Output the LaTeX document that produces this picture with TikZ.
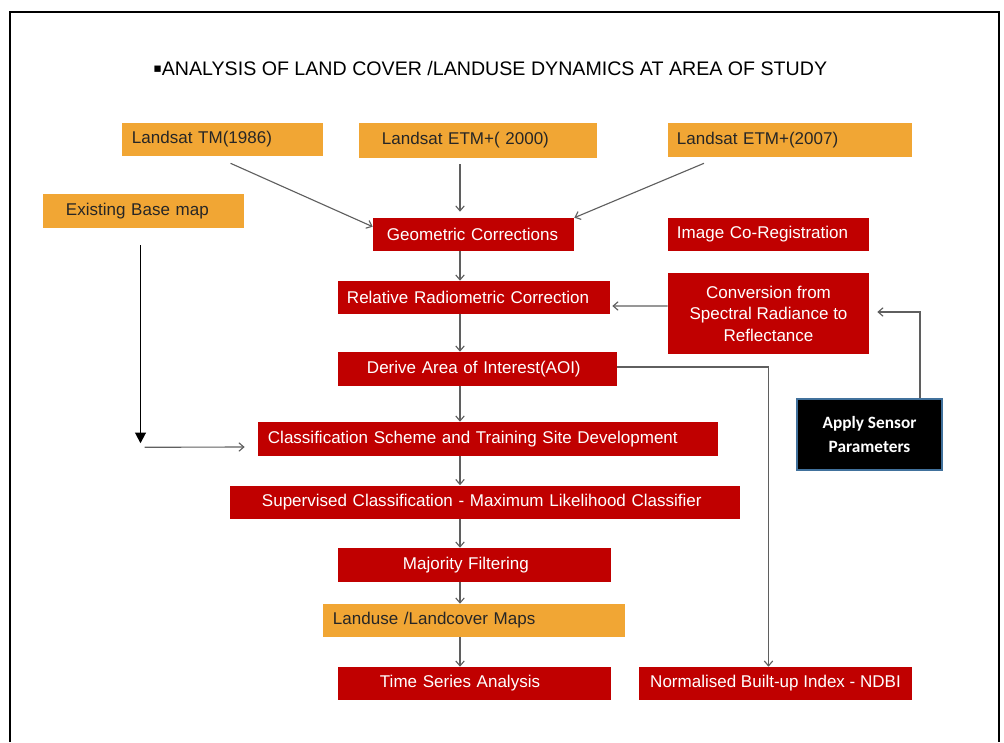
\documentclass[tikz,border=0pt]{standalone}
\usepackage{fontspec}
\setmainfont{Liberation Sans}
\newfontfamily\symbfont{DejaVu Sans}
\newfontfamily\applyfont{Carlito}
\usetikzlibrary{calc}
\usetikzlibrary{arrows.meta}

\definecolor{boxred}{RGB}{192,0,0}
\definecolor{boxorange}{RGB}{241,166,52}
\definecolor{linegray}{RGB}{95,95,95}
\definecolor{edgeblue}{RGB}{65,113,156}

\tikzset{
	redbox/.style={fill=boxred, text=white, minimum height=0.825cm, inner ysep=0pt},
	orangebox/.style={fill=boxorange, text=black!85, minimum height=0.825cm, inner ysep=0pt},
	pad/.style 2 args={text width=#1, inner xsep=#2, align=left},
	arr/.style={draw=linegray, line width=0.8pt, -{Straight Barb[length=3.5pt,width=6pt]}},
	basearr/.style={draw=black, line width=1.3pt, -{Triangle[length=7.5pt,width=7.5pt]}}
}

\begin{document}
\begin{tikzpicture}[x=0.025cm, y=-0.025cm, font=\fontsize{12.1pt}{15.3pt}\selectfont]
%%%%%%%%%%%%%%%%%%

\useasboundingbox (0,0) rectangle (1004,742);

%Frame
	\draw[line width=1.4pt] (10,742) -- (10,12) -- (999,12) -- (999,742);

%Title
	\node[anchor=base west, inner sep=0pt, font=\fontsize{13.95pt}{17pt}\selectfont] (title) at (153,76)
		{\raisebox{2.8pt}{\symbfont\fontsize{9pt}{9pt}\selectfont ▪}ANALYSIS OF LAND COVER /LANDUSE DYNAMICS AT AREA OF STUDY};

%Input images
	\node[orangebox, pad={4.525cm}{0.25cm}] (tm) at (222.5,139.5) {Landsat TM(1986)};
	\node[orangebox, pad={4.8cm}{0.575cm}, minimum height=0.875cm] (etm2000) at (478,140.5) {Landsat ETM+( 2000)};
	\node[orangebox, pad={5.65cm}{0.225cm}, minimum height=0.85cm] (etm2007) at (790,140) {Landsat ETM+(2007)};
	\node[orangebox, pad={3.875cm}{0.575cm}, minimum height=0.85cm] (base) at (143.5,211) {Existing Base map};

%Processing chain
	\node[redbox, pad={4.325cm}{0.35cm}] (geo) at (473.5,234.5) {Geometric Corrections};
	\node[redbox, pad={4.575cm}{0.225cm}] (coreg) at (768.5,234.5) {Image Co-Registration};
	\node[redbox, pad={6.35cm}{0.225cm}] (rel) at (474,297.5) {Relative Radiometric Correction};
	\node[redbox, minimum width=5.025cm, minimum height=2.025cm, align=center] (conv) at (768.5,313.5)
		{Conversion from\\Spectral Radiance to\\Reflectance};
	\node[redbox, pad={5.525cm}{0.725cm}, minimum height=0.85cm] (aoi) at (477.5,369) {Derive Area of Interest(AOI)};
	\node[redbox, pad={11.0cm}{0.25cm}, minimum height=0.85cm] (cls) at (488,439) {Classification Scheme and Training Site Development};
	\node[fill=black, draw=edgeblue, line width=1.3pt, text=white, minimum width=3.625cm, minimum height=1.775cm, align=center,
		font=\applyfont\bfseries\fontsize{12.3pt}{17pt}\selectfont] (apply) at (869.5,434.5) {Apply Sensor\\Parameters};
	\node[redbox, pad={11.15cm}{0.8cm}] (sup) at (485,502) {Supervised Classification - Maximum Likelihood Classifier};
	\node[redbox, pad={3.575cm}{1.625cm}, minimum height=0.85cm] (maj) at (474.5,565) {Majority Filtering};
	\node[orangebox, pad={7.05cm}{0.25cm}] (lul) at (474,620.5) {Landuse /Landcover Maps};
	\node[redbox, pad={4.725cm}{1.05cm}] (tsa) at (474.5,683.5) {Time Series Analysis};
	\node[redbox, minimum width=6.825cm] (ndbi) at (775.5,683.5) {Normalised Built-up Index - NDBI};

% Connect boxes
	\coordinate (spine) at (460,0);
	\draw[arr] ($(tm.south)+(8,7)$) -- ($(geo.north west)+(0,9)$);
	\draw[arr, shorten <=0.15cm, shorten >=0.15cm] (etm2000.south -| spine) -- (geo.north -| spine);
	\draw[arr] ($(etm2007.south)+(-86,6)$) -- (geo.north east);
	\draw[arr] (geo.south -| spine) -- (rel.north -| spine);
	\draw[arr] (rel.south -| spine) -- (aoi.north -| spine);
	\draw[arr] (aoi.south -| spine) -- (cls.north -| spine);
	\draw[arr] (cls.south -| spine) -- (sup.north -| spine);
	\draw[arr] (sup.south -| spine) -- (maj.north -| spine);
	\draw[arr] (maj.south -| spine) -- (lul.north -| spine);
	\draw[arr] (lul.south -| spine) -- (tsa.north -| spine);
	\draw[arr] ($(conv.west)+(0,-7.5)$) -- ($(rel.east)+(2,8.5)$);
	\draw[arr] ($(apply.north)+(50.5,0)$) |- ($(conv.east)+(8,-1.5)$);
	\draw[arr] ($(aoi.east)+(0,-2)$) -| ($(ndbi.north)+(-7,0)$);

% Base map link
	\draw[basearr] ($(base.south)+(-3,17)$) -- ($(base.south)+(-3,215)$);
	\draw[arr] ($(base.south)+(1,219)$) -- ($(cls.west)+(-13,8)$);

\end{tikzpicture}
\end{document}
